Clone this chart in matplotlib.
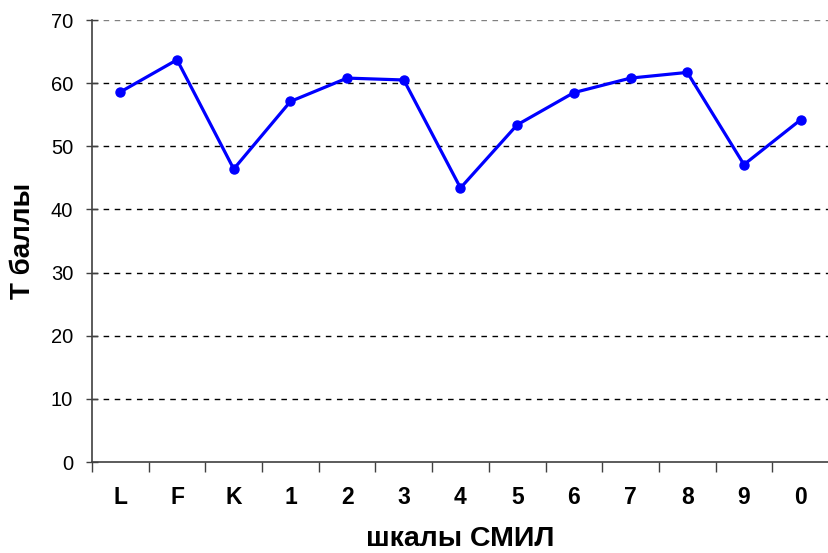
import matplotlib
matplotlib.use("Agg")
import matplotlib.pyplot as plt
import numpy as np

categories = ["L", "F", "K", "1", "2", "3", "4", "5", "6", "7", "8", "9", "0"]
values = [58.6, 63.7, 46.4, 57.1, 60.8, 60.5, 43.4, 53.4, 58.5, 60.8, 61.7, 47.1, 54.2]
yticks = [0, 10, 20, 30, 40, 50, 60, 70]

plt.rcParams['font.family'] = ['Liberation Sans', 'DejaVu Sans']

fig = plt.figure(figsize=(8.29, 5.53), dpi=100)
ax = fig.add_axes([92/829, 91/553, (829-92)/829, 442/553])

x = np.arange(len(categories))
ax.plot(x, values, color="#0000ff", lw=2.3, marker="o", ms=6.5, zorder=3, clip_on=False)

ax.set_ylim(0, 70)
ax.set_xlim(-0.5, 12.38)
ax.set_yticks(yticks)
ax.set_yticklabels([str(t) for t in yticks], fontsize=14.5)
for t in yticks[1:]:
    ax.axhline(t, color="#000000" if t < 70 else "#808080", lw=1, ls=(0, (4, 4)), zorder=1)

ax.set_xticks(x)
ax.set_xticklabels(categories, fontsize=16.5, fontweight="bold")
ax.set_xticks(np.arange(-0.5, len(categories), 1), minor=True)
ax.tick_params(axis="x", which="major", length=0, pad=17)
ax.tick_params(axis="x", which="minor", length=7, width=1, color="#404040", direction="out")
ax.tick_params(axis="y", length=9, width=1, color="#404040", direction="inout", pad=9)

for s in ["top", "right"]:
    ax.spines[s].set_visible(False)
for s in ["left", "bottom"]:
    ax.spines[s].set_color("#404040")
    ax.spines[s].set_linewidth(1.2)

ax.set_xlabel("шкалы СМИЛ", fontsize=20.5, fontweight="bold", labelpad=12.5)
ax.set_ylabel("Т баллы", fontsize=20, fontweight="bold", labelpad=10.5)

fig.savefig("out.png", dpi=100)
